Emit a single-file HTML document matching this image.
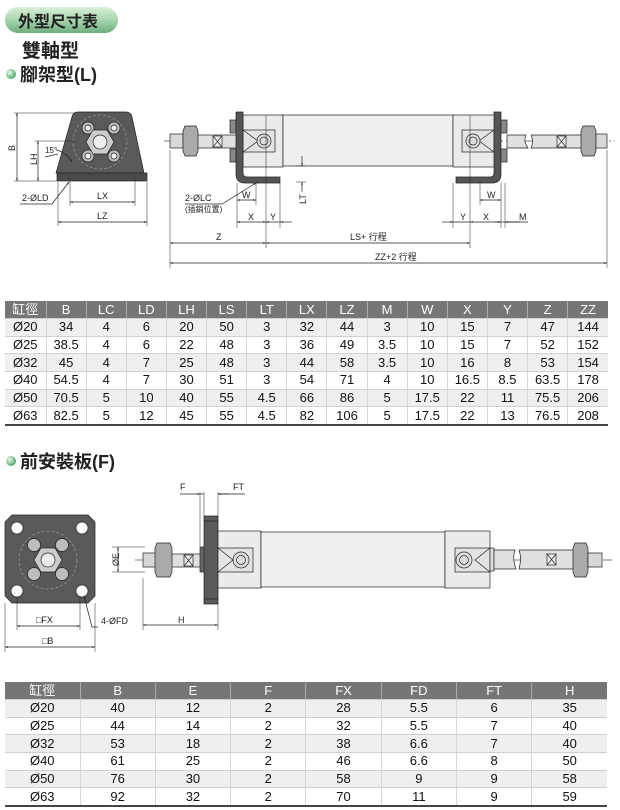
<!DOCTYPE html>
<html><head><meta charset="utf-8"><style>
body{margin:0;background:#fff;width:620px;height:810px;overflow:hidden;font-family:"Liberation Sans","Noto Sans CJK TC",sans-serif}
svg{position:absolute;left:0;top:0}
table{position:absolute;border-collapse:collapse;font-family:"Liberation Sans","Noto Sans CJK TC",sans-serif;font-size:13px;color:#111;table-layout:fixed}
td,th{text-align:center;padding:0;height:16.7px;line-height:16px;border-left:1px solid #d6d6d6;border-bottom:1px solid #d0d0d0}
td:first-child,th:first-child{border-left:none}
th{background:#767676;color:#fff;font-weight:normal;height:17px;border-left:1px solid #aaa}
tr:nth-child(even) td{background:#efefef}
table{border-bottom:2px solid #444}
</style></head><body>
<svg width="620" height="810" viewBox="0 0 620 810" font-family="Liberation Sans, Noto Sans CJK TC, sans-serif">
<defs>
<linearGradient id="pill" x1="0" y1="0" x2="0" y2="1"><stop offset="0" stop-color="#d9efd9"/><stop offset="0.5" stop-color="#a7d4ae"/><stop offset="1" stop-color="#6fae7e"/></linearGradient>
<radialGradient id="ball" cx="0.35" cy="0.35" r="0.7"><stop offset="0" stop-color="#e9fbe9"/><stop offset="1" stop-color="#4ea36a"/></radialGradient>
<marker id="a" viewBox="0 0 10 10" refX="10" refY="5" markerWidth="6" markerHeight="4" orient="auto-start-reverse"><path d="M0,2 L10,5 L0,8z" fill="#222"/></marker>
</defs>
<!-- headings -->
<rect x="5" y="7" width="113" height="26" rx="13" fill="url(#pill)"/>
<text x="18" y="27" font-size="16" font-weight="bold" fill="#222">外型尺寸表</text>
<text x="22" y="57" font-size="19" font-weight="bold" fill="#222">雙軸型</text>
<circle cx="11" cy="74" r="5" fill="url(#ball)"/>
<text x="20" y="81" font-size="18" font-weight="bold" fill="#222">腳架型(L)</text>
<circle cx="11" cy="461" r="5" fill="url(#ball)"/>
<text x="20" y="468" font-size="18" font-weight="bold" fill="#222">前安裝板(F)</text>

<g stroke="#222" stroke-width="0.7" fill="none">
<!-- foot view -->
<path d="M78,112 L126,112 Q131,112 132,117 L144,173 L56,173 L72,117 Q73,112 78,112z" fill="#595959"/>
<rect x="57" y="173" width="90" height="8" fill="#4a4a4a"/>
<circle cx="100" cy="142" r="27" stroke="#999" stroke-dasharray="3,2"/>
<g fill="#bdbdbd"><circle cx="88" cy="128" r="6"/><circle cx="114" cy="128" r="6"/><circle cx="88" cy="156" r="6"/><circle cx="114" cy="156" r="6"/>
<polygon points="114,142 107,154 93,154 86,142 93,130 107,130" fill="#ccc"/></g>
<circle cx="100" cy="142" r="7" fill="#eee"/>
<g fill="#eee"><circle cx="88" cy="128" r="3"/><circle cx="114" cy="128" r="3"/><circle cx="88" cy="156" r="3"/><circle cx="114" cy="156" r="3"/></g>
<path d="M14,113H75 M14,181H57 M35,141H75 M58,182V226 M147,182V226 M70,178V206 M135,178V206" stroke-width="0.5"/>
<line x1="17" y1="113" x2="17" y2="181" marker-start="url(#a)" marker-end="url(#a)"/>
<line x1="38" y1="141" x2="38" y2="181" marker-start="url(#a)" marker-end="url(#a)"/>
<line x1="70" y1="202" x2="135" y2="202" marker-start="url(#a)" marker-end="url(#a)"/>
<line x1="58" y1="222" x2="147" y2="222" marker-start="url(#a)" marker-end="url(#a)"/>
<path d="M20,204H52L69,182" marker-end="url(#a)"/>
<path d="M45,157 L58,154 M56,150 Q66,152 72,162" marker-end="url(#a)"/>

<!-- L main view -->
<line x1="164" y1="141" x2="615" y2="141" stroke="#555" stroke-dasharray="10,3,2,3"/>
<rect x="170" y="134" width="14" height="14" fill="#d8d8d8"/>
<rect x="183" y="135" width="54" height="13" fill="#e0e0e0"/>
<path d="M185,126H196L198,131V151L196,156H185L183,151V131z" fill="#aaa"/>
<rect x="213" y="136" width="9" height="11" fill="#eee"/><path d="M213,136L222,147M222,136L213,147"/>
<rect x="230" y="120" width="6" height="13" fill="#888"/><rect x="230" y="149" width="6" height="13" fill="#888"/>
<rect x="243" y="115" width="40" height="52" fill="#ebebeb"/>
<rect x="283" y="115" width="170" height="51" fill="#efefef"/>
<rect x="453" y="115" width="43" height="52" fill="#ebebeb"/>
<rect x="243" y="130" width="32" height="22" fill="#e3e3e3"/><path d="M243,130L258,141L243,152"/>
<circle cx="264" cy="141" r="7" fill="#ddd"/><circle cx="264" cy="141" r="4"/>
<rect x="462" y="130" width="32" height="22" fill="#e3e3e3"/><path d="M494,130L479,141L494,152"/>
<circle cx="473" cy="141" r="7" fill="#ddd"/><circle cx="473" cy="141" r="4"/>
<path d="M236,112H243V173Q243,177 247,177H280V183H245Q236,183 236,174z" fill="#555"/>
<path d="M501,112H494V173Q494,177 490,177H456V183H492Q501,183 501,174z" fill="#555"/>
<rect x="501" y="120" width="6" height="13" fill="#888"/><rect x="501" y="149" width="6" height="13" fill="#888"/>
<path d="M507,135H526Q523,141 528,148H507z M531,135H582V148H531Q534,141 531,135" fill="#e0e0e0"/>
<rect x="557" y="136" width="9" height="11" fill="#eee"/><path d="M557,136L566,147M566,136L557,147"/>
<path d="M583,126H594L596,131V151L594,156H583L581,151V131z" fill="#aaa"/>
<rect x="596" y="134" width="11" height="14" fill="#d8d8d8"/>
<g stroke-width="0.5">
<path d="M170,150V268 M607,150V268 M237,183V228 M256,183V205 M266,115V248 M280,183V228 M470,115V248 M453,183V228 M480,183V205 M501,183V228 M505,183V228 M296,166H306 M296,182H306"/>
</g>
<line x1="302" y1="156" x2="302" y2="166" marker-end="url(#a)"/><line x1="302" y1="192" x2="302" y2="182" marker-end="url(#a)"/>
<line x1="237" y1="200" x2="256" y2="200" marker-start="url(#a)" marker-end="url(#a)"/>
<line x1="480" y1="200" x2="501" y2="200" marker-start="url(#a)" marker-end="url(#a)"/>
<line x1="237" y1="222" x2="266" y2="222" marker-start="url(#a)" marker-end="url(#a)"/>
<line x1="266" y1="222" x2="280" y2="222" marker-start="url(#a)"/><line x1="292" y1="222" x2="280" y2="222" marker-end="url(#a)"/>
<line x1="442" y1="222" x2="453" y2="222" marker-end="url(#a)"/>
<line x1="453" y1="222" x2="470" y2="222"/>
<line x1="470" y1="222" x2="501" y2="222" marker-start="url(#a)" marker-end="url(#a)"/>
<line x1="494" y1="222" x2="505" y2="222"/><line x1="520" y1="222" x2="505" y2="222" marker-end="url(#a)"/><line x1="505" y1="222" x2="528" y2="222"/>
<line x1="170" y1="243" x2="266" y2="243" marker-start="url(#a)" marker-end="url(#a)"/>
<line x1="266" y1="243" x2="470" y2="243" marker-start="url(#a)" marker-end="url(#a)"/>
<line x1="170" y1="263" x2="607" y2="263" marker-start="url(#a)" marker-end="url(#a)"/>
<path d="M185,204H222L256,183" marker-end="url(#a)"/>

<!-- F front plate -->
<path d="M12,515H88L95,522V596L88,603H12L5,596V522z" fill="#595959"/>
<circle cx="48" cy="560" r="29" stroke="#999" stroke-dasharray="3,2"/>
<g fill="#fff"><circle cx="17" cy="528" r="6"/><circle cx="82" cy="528" r="6"/><circle cx="17" cy="591" r="6"/><circle cx="82" cy="591" r="6"/></g>
<g fill="#bdbdbd"><circle cx="34" cy="545" r="6.5"/><circle cx="62" cy="545" r="6.5"/><circle cx="34" cy="574" r="6.5"/><circle cx="62" cy="574" r="6.5"/>
<polygon points="62,560 55,572 41,572 34,560 41,548 55,548" fill="#ccc"/></g>
<circle cx="48" cy="560" r="7" fill="#eee"/>
<path d="M5,603V652 M95,603V652 M17,597V630 M80,597V630 M143,578V630 M218,604V630 M200,492V546 M204,492V516 M218,492V516 M112,547H145 M112,572H145" stroke-width="0.5"/>
<line x1="17" y1="626" x2="80" y2="626" marker-start="url(#a)" marker-end="url(#a)"/>
<line x1="5" y1="647" x2="95" y2="647" marker-start="url(#a)" marker-end="url(#a)"/>
<line x1="143" y1="625" x2="218" y2="625" marker-start="url(#a)" marker-end="url(#a)"/>
<line x1="118" y1="547" x2="118" y2="572" marker-start="url(#a)" marker-end="url(#a)"/>
<line x1="180" y1="494" x2="200" y2="494" marker-end="url(#a)"/><line x1="200" y1="494" x2="204" y2="494"/>
<line x1="230" y1="494" x2="218" y2="494" marker-end="url(#a)"/><line x1="218" y1="494" x2="245" y2="494"/>
<path d="M98,627H92L84,596" marker-end="url(#a)"/>
<line x1="135" y1="560" x2="612" y2="560" stroke="#555" stroke-dasharray="10,3,2,3"/>
<rect x="143" y="553" width="14" height="14" fill="#d8d8d8"/>
<rect x="156" y="554" width="45" height="13" fill="#e0e0e0"/>
<path d="M157,543H170L172,548V572L170,577H157L155,572V548z" fill="#aaa"/>
<rect x="184" y="555" width="9" height="11" fill="#eee"/><path d="M184,555L193,566M193,555L184,566"/>
<rect x="200" y="547" width="5" height="25" fill="#666"/>
<rect x="204" y="516" width="14" height="88" fill="#5a5a5a"/><path d="M204,521H218M204,599H218"/>
<rect x="218" y="531" width="43" height="57" fill="#ebebeb"/>
<rect x="261" y="532" width="184" height="55" fill="#efefef"/>
<rect x="445" y="531" width="45" height="57" fill="#ebebeb"/>
<rect x="218" y="548" width="35" height="24" fill="#e3e3e3"/><path d="M218,548L233,560L218,572"/>
<circle cx="241" cy="560" r="8" fill="#ddd"/><circle cx="241" cy="560" r="4.5"/>
<rect x="455" y="548" width="35" height="24" fill="#e3e3e3"/><path d="M490,548L475,560L490,572"/>
<circle cx="464" cy="560" r="8" fill="#ddd"/><circle cx="464" cy="560" r="4.5"/>
<rect x="490" y="548" width="4" height="23" fill="#ddd"/>
<path d="M494,550H515Q512,558 516,569H494z M519,550H575V569H519Q522,558 519,550" fill="#e0e0e0"/>
<rect x="547" y="554" width="9" height="11" fill="#eee"/><path d="M547,554L556,565M556,554L547,565"/>
<path d="M575,543H586L588,548V572L586,577H575L573,572V548z" fill="#aaa"/>
<rect x="588" y="553" width="14" height="14" fill="#d8d8d8"/>
</g>
<g font-size="9" fill="#222">
<text x="8" y="150" transform="rotate(-90 12 147)">B</text>
<text x="29" y="163" transform="rotate(-90 34 160)">LH</text>
<text x="45" y="153" font-size="8">15°</text>
<text x="22" y="201">2-ØLD</text>
<text x="97" y="199">LX</text>
<text x="97" y="219">LZ</text>
<text x="185" y="201">2-ØLC</text>
<text x="185" y="212" font-size="8">(插銷位置)</text>
<text x="298" y="204" transform="rotate(-90 302 200)">LT</text>
<text x="242" y="198">W</text><text x="487" y="198">W</text>
<text x="248" y="220">X</text><text x="270" y="220">Y</text>
<text x="460" y="220">Y</text><text x="483" y="220">X</text><text x="519" y="220">M</text>
<text x="216" y="240">Z</text>
<text x="350" y="240">LS+ 行程</text>
<text x="375" y="260">ZZ+2 行程</text>
<text x="36" y="623">□FX</text>
<text x="42" y="644">□B</text>
<text x="101" y="624">4-ØFD</text>
<text x="178" y="623">H</text>
<text x="180" y="490">F</text><text x="233" y="490">FT</text>
<text x="114" y="569" transform="rotate(-90 115 565)">ØE</text>
</g>
</svg>
<table style="left:5px;top:301px;width:603px">
<colgroup><col style="width:41px"><col span="14" style="width:40.1px"></colgroup>
<tr><th>缸徑</th><th>B</th><th>LC</th><th>LD</th><th>LH</th><th>LS</th><th>LT</th><th>LX</th><th>LZ</th><th>M</th><th>W</th><th>X</th><th>Y</th><th>Z</th><th>ZZ</th></tr>
<tr><td>Ø20</td><td>34</td><td>4</td><td>6</td><td>20</td><td>50</td><td>3</td><td>32</td><td>44</td><td>3</td><td>10</td><td>15</td><td>7</td><td>47</td><td>144</td></tr>
<tr><td>Ø25</td><td>38.5</td><td>4</td><td>6</td><td>22</td><td>48</td><td>3</td><td>36</td><td>49</td><td>3.5</td><td>10</td><td>15</td><td>7</td><td>52</td><td>152</td></tr>
<tr><td>Ø32</td><td>45</td><td>4</td><td>7</td><td>25</td><td>48</td><td>3</td><td>44</td><td>58</td><td>3.5</td><td>10</td><td>16</td><td>8</td><td>53</td><td>154</td></tr>
<tr><td>Ø40</td><td>54.5</td><td>4</td><td>7</td><td>30</td><td>51</td><td>3</td><td>54</td><td>71</td><td>4</td><td>10</td><td>16.5</td><td>8.5</td><td>63.5</td><td>178</td></tr>
<tr><td>Ø50</td><td>70.5</td><td>5</td><td>10</td><td>40</td><td>55</td><td>4.5</td><td>66</td><td>86</td><td>5</td><td>17.5</td><td>22</td><td>11</td><td>75.5</td><td>206</td></tr>
<tr><td>Ø63</td><td>82.5</td><td>5</td><td>12</td><td>45</td><td>55</td><td>4.5</td><td>82</td><td>106</td><td>5</td><td>17.5</td><td>22</td><td>13</td><td>76.5</td><td>208</td></tr>
</table>
<table style="left:5px;top:682px;width:602px">
<colgroup><col style="width:75px"><col span="7" style="width:75.3px"></colgroup>
<tr><th>缸徑</th><th>B</th><th>E</th><th>F</th><th>FX</th><th>FD</th><th>FT</th><th>H</th></tr>
<tr><td>Ø20</td><td>40</td><td>12</td><td>2</td><td>28</td><td>5.5</td><td>6</td><td>35</td></tr>
<tr><td>Ø25</td><td>44</td><td>14</td><td>2</td><td>32</td><td>5.5</td><td>7</td><td>40</td></tr>
<tr><td>Ø32</td><td>53</td><td>18</td><td>2</td><td>38</td><td>6.6</td><td>7</td><td>40</td></tr>
<tr><td>Ø40</td><td>61</td><td>25</td><td>2</td><td>46</td><td>6.6</td><td>8</td><td>50</td></tr>
<tr><td>Ø50</td><td>76</td><td>30</td><td>2</td><td>58</td><td>9</td><td>9</td><td>58</td></tr>
<tr><td>Ø63</td><td>92</td><td>32</td><td>2</td><td>70</td><td>11</td><td>9</td><td>59</td></tr>
</table>
</body></html>
